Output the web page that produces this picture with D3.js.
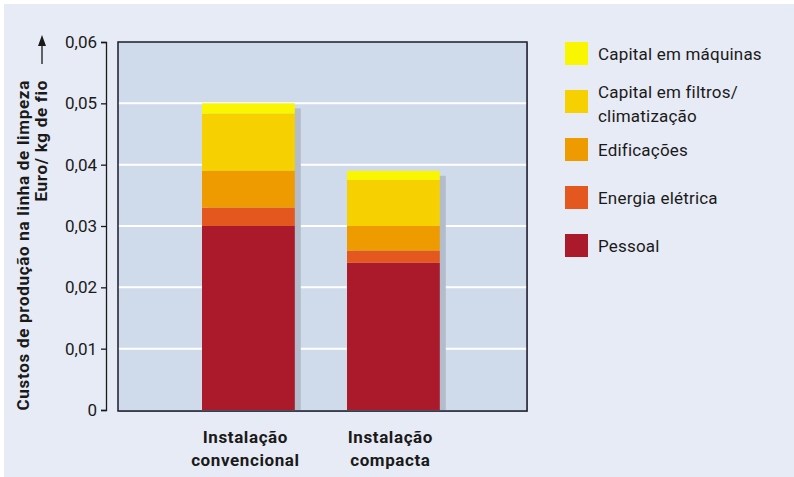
<!DOCTYPE html>
<html>
<head>
  <meta charset="utf-8">
  <title>Custos de produção</title>
  <script src="https://d3js.org/d3.v7.min.js"></script>
  <style>
    body { margin: 0; background: #fff; }
    text { font-family: 'Roboto', 'Liberation Sans', sans-serif; fill: #1a1a1a; }
  </style>
</head>
<body>
<div class="chart"></div>
<script>
  // data
  var categories = ["Instalação convencional", "Instalação compacta"];
  var catLines = [["Instalação", "convencional"], ["Instalação", "compacta"]];
  var keys = ["Pessoal", "Energia elétrica", "Edificações", "Capital em filtros/ climatização", "Capital em máquinas"];
  var pessoal     = [0.030, 0.024];
  var energia     = [0.003, 0.002];
  var edificacoes = [0.006, 0.004];
  var filtros     = [0.0093, 0.0075];
  var maquinas    = [0.0017, 0.0015];
  var yTicks = [0, 0.01, 0.02, 0.03, 0.04, 0.05, 0.06];

  var colors = ["#aa1a2a", "#e4581f", "#ee9b00", "#f6d000", "#faf500"];
  var legendLines = [["Capital em máquinas"], ["Capital em filtros/", "climatização"], ["Edificações"], ["Energia elétrica"], ["Pessoal"]];
  var legendColors = ["#faf500", "#f6d000", "#ee9b00", "#e4581f", "#aa1a2a"];

  var W = 794, H = 477;
  var plot = {left: 118, right: 527, top: 42, bottom: 411};

  var svg = d3.select(".chart").append("svg")
      .attr("width", W).attr("height", H);

  // background panel
  svg.append("rect")
      .attr("x", 4).attr("y", 4)
      .attr("width", W - 4).attr("height", H - 4)
      .attr("fill", "#e7ebf5");

  var y = d3.scaleLinear().domain([0, 0.06]).range([410, 42]);
  var x = d3.scaleBand().domain(categories).range([202, 202 + 145 * 1.64])
      .paddingInner(0.36).paddingOuter(0);

  // plot frame shadow + fill
  svg.append("rect")
      .attr("x", plot.left + 1).attr("y", plot.top + 1)
      .attr("width", plot.right - plot.left).attr("height", plot.bottom - plot.top)
      .attr("fill", "#9aa1ad");
  svg.append("rect")
      .attr("x", plot.left).attr("y", plot.top)
      .attr("width", plot.right - plot.left).attr("height", plot.bottom - plot.top)
      .attr("fill", "#cfdaeb");

  // gridlines
  svg.selectAll(".grid")
    .data(yTicks.slice(1, -1))
    .enter().append("line")
      .attr("x1", plot.left).attr("x2", plot.right)
      .attr("y1", function(d) { return y(d); })
      .attr("y2", function(d) { return y(d); })
      .attr("stroke", "#fff").attr("stroke-width", 2);

  var rows = categories.map(function(c, i) {
    return {cat: c, "Pessoal": pessoal[i], "Energia elétrica": energia[i], "Edificações": edificacoes[i],
            "Capital em filtros/ climatização": filtros[i], "Capital em máquinas": maquinas[i]};
  });
  var series = d3.stack().keys(keys)(rows);
  var totals = rows.map(function(r) { return d3.sum(keys, function(k) { return r[k]; }); });

  // bar shadows
  svg.selectAll(".shadow")
    .data(rows)
    .enter().append("rect")
      .attr("x", function(d) { return x(d.cat) + 6; })
      .attr("y", function(d, i) { return y(totals[i]) + 5; })
      .attr("width", x.bandwidth())
      .attr("height", function(d, i) { return y(0) - y(totals[i]) - 5; })
      .attr("fill", "#b3bccb");

  svg.selectAll(".layer")
    .data(series)
    .enter().append("g")
      .attr("fill", function(d, i) { return colors[i]; })
    .selectAll("rect")
    .data(function(d) { return d; })
    .enter().append("rect")
      .attr("x", function(d) { return x(d.data.cat); })
      .attr("y", function(d) { return y(d[1]); })
      .attr("width", x.bandwidth())
      .attr("height", function(d) { return y(d[0]) - y(d[1]); });

  // plot border
  svg.append("rect")
      .attr("x", plot.left).attr("y", plot.top)
      .attr("width", plot.right - plot.left).attr("height", plot.bottom - plot.top)
      .attr("fill", "none").attr("stroke", "#1c1c2a").attr("stroke-width", 1.5);

  // y axis
  var yAxis = svg.append("g")
      .attr("transform", "translate(106,0)")
      .call(d3.axisLeft(y).tickValues(yTicks).tickSize(5).tickPadding(4)
        .tickFormat(function(d) { return d === 0 ? "0" : d3.format(".2f")(d).replace(".", ","); }));
  yAxis.selectAll("path, line").attr("stroke", "#1a1a1a").attr("stroke-width", 1.3);
  yAxis.selectAll("text").style("font-size", "17px").style("font-family", "Roboto, sans-serif").attr("fill", "#2a2a2a");

  // y label
  var ylab = svg.append("text")
      .attr("transform", "translate(29,80) rotate(-90)")
      .attr("text-anchor", "end")
      .style("font-size", "17px").style("font-weight", "700").style("letter-spacing", "0.7px");
  ylab.append("tspan").attr("x", 0).attr("y", 0).text("Custos de produção na linha de limpeza");
  ylab.append("tspan").attr("x", 0).attr("y", 18).text("Euro/ kg de fio");

  // arrow
  svg.append("line")
      .attr("x1", 42).attr("x2", 42).attr("y1", 64).attr("y2", 44)
      .attr("stroke", "#1a1a1a").attr("stroke-width", 1.3);
  svg.append("path")
      .attr("d", "M42,35 L38,46 L46,46 Z")
      .attr("fill", "#1a1a1a");

  // x labels
  categories.forEach(function(c, i) {
    var t = svg.append("text")
        .attr("text-anchor", "middle")
        .style("font-size", "17px").style("font-weight", "700").style("letter-spacing", "0.6px");
    catLines[i].forEach(function(l, j) {
      t.append("tspan")
        .attr("x", x(c) + x.bandwidth() / 2 - 3)
        .attr("y", 443 + j * 23)
        .text(l);
    });
  });

  // legend
  var lg = svg.append("g");
  legendLines.forEach(function(lines, i) {
    var top = 42 + i * 48;
    lg.append("rect")
      .attr("x", 565).attr("y", top)
      .attr("width", 23).attr("height", 23)
      .attr("fill", legendColors[i]);
    var t = lg.append("text").style("font-size", "17px").attr("fill", "#2a2a2a").style("letter-spacing", "0.2px");
    var base = lines.length > 1 ? top + 8 : top + 18;
    lines.forEach(function(l, j) {
      t.append("tspan").attr("x", 598).attr("y", base + j * 24).text(l);
    });
  });
</script>
</body>
</html>
